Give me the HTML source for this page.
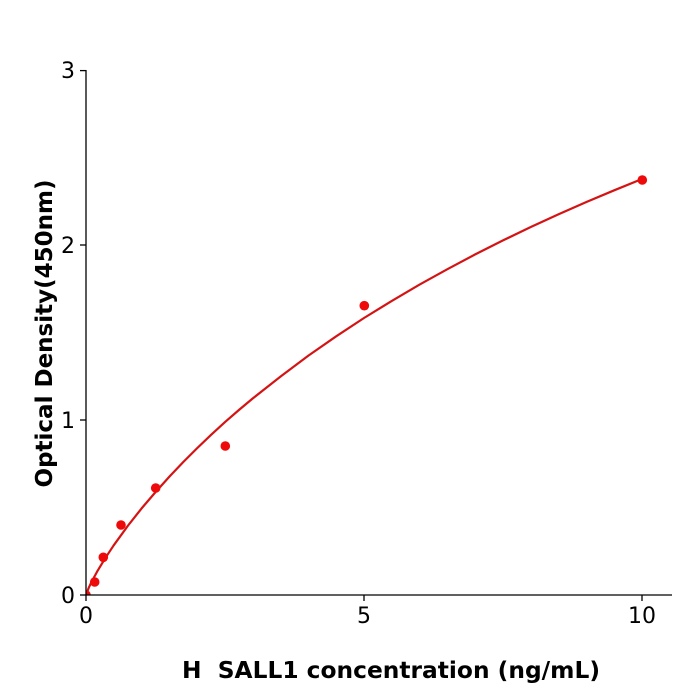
<!DOCTYPE html>
<html>
<head>
<meta charset="utf-8">
<style>
html,body{margin:0;padding:0;background:#fff;}
svg{display:block;}
text{font-family:"DejaVu Sans","Liberation Sans",sans-serif;fill:#000;}
</style>
</head>
<body>
<svg width="700" height="700" viewBox="0 0 700 700" xmlns="http://www.w3.org/2000/svg">
<defs>
<clipPath id="ax"><rect x="86" y="40" width="600" height="555"/></clipPath>
</defs>
<rect width="700" height="700" fill="#fff"/>

<!-- fitted curve -->
<polyline clip-path="url(#ax)" fill="none" stroke="#d41414" stroke-width="2.2" stroke-linejoin="round" stroke-linecap="round"
points="86,595 88.78,587.7 91.56,581.9 97.12,571.6 105.46,557.8 113.8,545.2 127.7,526.0 141.6,508.4 155.5,492.1 169.4,476.6 183.3,462.0 197.2,448.1 211.1,434.8 225,422.1 238.9,410.0 252.8,398.4 280.6,376.5 308.4,355.6 336.2,336.3 364,318.0 391.8,300.9 419.6,284.6 447.4,269.2 475.2,254.4 503,240.4 530.8,227.0 558.6,214.3 586.4,202.0 614.2,190.3 642,179.0"/>

<!-- data points -->
<g fill="#ee0a0a" clip-path="url(#ax)">
<circle cx="86" cy="595" r="4.8"/>
<circle cx="94.7" cy="582" r="4.8"/>
<circle cx="103.3" cy="557.3" r="4.8"/>
<circle cx="121" cy="525" r="4.8"/>
<circle cx="155.7" cy="488" r="4.8"/>
<circle cx="225.3" cy="446" r="4.8"/>
<circle cx="364.3" cy="305.7" r="4.8"/>
<circle cx="642.3" cy="180" r="4.8"/>
</g>

<!-- axes -->
<g stroke="#000" stroke-width="1.3" fill="none">
<line x1="86" y1="70" x2="86" y2="595.6"/>
<line x1="85.4" y1="595" x2="672" y2="595"/>
<!-- y ticks -->
<line x1="80" y1="595" x2="86" y2="595"/>
<line x1="80" y1="420" x2="86" y2="420"/>
<line x1="80" y1="245" x2="86" y2="245"/>
<line x1="80" y1="70.6" x2="86" y2="70.6"/>
<!-- x ticks -->
<line x1="86" y1="595" x2="86" y2="601"/>
<line x1="364" y1="595" x2="364" y2="601"/>
<line x1="642" y1="595" x2="642" y2="601"/>
</g>

<!-- tick labels -->
<g font-size="22">
<text x="75" y="603" text-anchor="end">0</text>
<text x="75" y="428" text-anchor="end">1</text>
<text x="75" y="253" text-anchor="end">2</text>
<text x="75" y="78" text-anchor="end">3</text>
<text x="86" y="623" text-anchor="middle">0</text>
<text x="364" y="623" text-anchor="middle">5</text>
<text x="642" y="623" text-anchor="middle">10</text>
</g>

<!-- axis labels -->
<text x="182" y="678" font-size="23.3" font-weight="bold" xml:space="preserve" textLength="418" lengthAdjust="spacingAndGlyphs">H  SALL1 concentration (ng/mL)</text>
<text transform="translate(52,333.5) rotate(-90)" text-anchor="middle" font-size="23" font-weight="bold">Optical Density(450nm)</text>
</svg>
</body>
</html>
